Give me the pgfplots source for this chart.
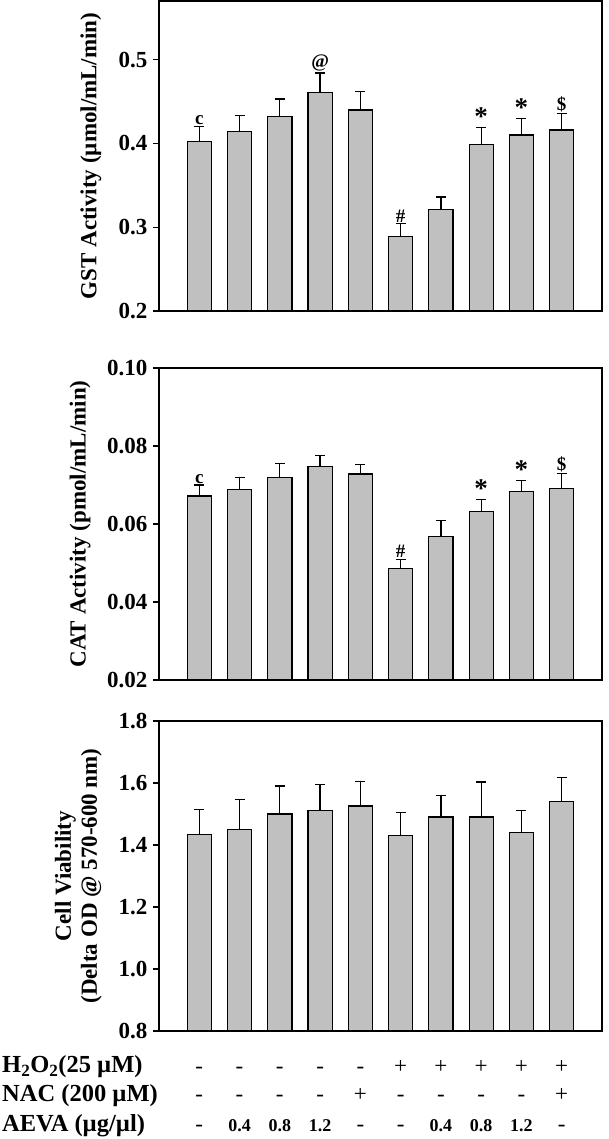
\documentclass[border=0pt]{standalone}
\usepackage{fontspec}
\setmainfont{Liberation Serif}
\usepackage{pgfplots}
\usepackage{pgfplotstable}
\pgfplotsset{compat=1.18}
\definecolor{barfill}{RGB}{192,192,192}
\newcommand\bigast{{\fontsize{27}{27}\selectfont *}}

\pgfplotstableread{
x y e
0 0.402 0.018
1 0.414 0.019
2 0.432 0.021
3 0.461 0.023
4 0.440 0.022
5 0.289 0.015
6 0.321 0.015
7 0.399 0.020
8 0.410 0.020
9 0.416 0.020
}\gst
\pgfplotstableread{
x y e
0 0.0672 0.0028
1 0.0688 0.0032
2 0.0720 0.0036
3 0.0748 0.0028
4 0.0728 0.0024
5 0.0485 0.0024
6 0.0568 0.0041
7 0.0632 0.0031
8 0.0684 0.0027
9 0.0692 0.0037
}\cat
\pgfplotstableread{
x y e
0 1.434 0.081
1 1.449 0.097
2 1.500 0.090
3 1.511 0.084
4 1.526 0.080
5 1.430 0.075
6 1.490 0.070
7 1.490 0.113
8 1.440 0.070
9 1.540 0.077
}\via

\tikzset{
  pm/.style={anchor=base, font=\fontsize{23}{23}\selectfont},
  num/.style={anchor=base, font=\fontsize{18}{18}\selectfont\bfseries},
}
\pgfplotsset{
  panel/.style={
    scale only axis, width=443pt, anchor=south west,
    xmin=-1, xmax=10, xtick=\empty,
    axis line style={line width=1.3pt},
    tick align=outside, ytick pos=left,
    major tick length=6pt,
    ytick style={line width=1.3pt, black},
    yticklabel style={font=\fontsize{23}{23}\selectfont\bfseries, xshift=-2pt},
    ylabel style={font=\fontsize{23}{26}\selectfont\bfseries, anchor=center, align=center},
    /pgf/number format/assume math mode=true,
    clip mode=individual,
  },
  mybar/.style={ybar, bar width=0.6, fill=barfill, draw=black, line width=1.2pt,
    error bars/.cd, y dir=plus, y explicit,
    error bar style={line width=1.2pt, black},
    error mark options={line width=1.2pt, mark size=5pt, black, rotate=90}},
  annot/.style={only marks, mark=none, nodes near coords, point meta=explicit symbolic,
    nodes near coords style={anchor=south, inner sep=1.5pt, font=\fontsize{19}{19}\selectfont\bfseries}},
}

\begin{document}
\begin{tikzpicture}
\useasboundingbox (0pt,0pt) rectangle (608pt,1139pt);

% GST
\begin{axis}[panel, at={(159pt,828pt)}, height=310pt,
  ymin=0.2, ymax=0.57, ytick={0.2,0.3,0.4,0.5},
  yticklabel style={/pgf/number format/.cd, fixed, fixed zerofill, precision=1},
  ylabel={GST Activity (µmol/mL/min)},
  ylabel style={at={(axis description cs:-0.1535,0.5)}}]
\addplot[mybar] table[x=x, y=y, y error=e] {\gst};
\addplot[annot] table[x=x, y=y, meta=l] {
x y l
0 0.420 c
3 0.484 @
5 0.304 \#
7 0.419 \bigast
8 0.430 \bigast
9 0.436 \$
};
\end{axis}

% CAT
\begin{axis}[panel, at={(159pt,459pt)}, height=312pt,
  ymin=0.02, ymax=0.10, ytick={0.02,0.04,0.06,0.08,0.10},
  yticklabel style={/pgf/number format/.cd, fixed, fixed zerofill, precision=2},
  ylabel={CAT Activity (pmol/mL/min)},
  ylabel style={at={(axis description cs:-0.178,0.5)}}]
\addplot[mybar] table[x=x, y=y, y error=e] {\cat};
\addplot[annot] table[x=x, y=y, meta=l] {
x y l
0 0.0700 c
5 0.0509 \#
7 0.0663 \bigast
8 0.0711 \bigast
9 0.0729 \$
};
\end{axis}

% Viability
\begin{axis}[panel, at={(159pt,108pt)}, height=310pt,
  ymin=0.8, ymax=1.8, ytick={0.8,1.0,1.2,1.4,1.6,1.8},
  yticklabel style={/pgf/number format/.cd, fixed, fixed zerofill, precision=1},
  ylabel={Cell Viability\\(Delta OD @ 570-600 nm)},
  ylabel style={at={(axis description cs:-0.182,0.5)}}]
\addplot[mybar] table[x=x, y=y, y error=e] {\via};
% treatment table
\node[pm] at (axis cs:0,0.6645) {-};
\node[pm] at (axis cs:1,0.6645) {-};
\node[pm] at (axis cs:2,0.6645) {-};
\node[pm] at (axis cs:3,0.6645) {-};
\node[pm] at (axis cs:4,0.6645) {-};
\node[pm] at (axis cs:5,0.6645) {+};
\node[pm] at (axis cs:6,0.6645) {+};
\node[pm] at (axis cs:7,0.6645) {+};
\node[pm] at (axis cs:8,0.6645) {+};
\node[pm] at (axis cs:9,0.6645) {+};
\node[pm] at (axis cs:0,0.572) {-};
\node[pm] at (axis cs:1,0.572) {-};
\node[pm] at (axis cs:2,0.572) {-};
\node[pm] at (axis cs:3,0.572) {-};
\node[pm] at (axis cs:4,0.572) {+};
\node[pm] at (axis cs:5,0.572) {-};
\node[pm] at (axis cs:6,0.572) {-};
\node[pm] at (axis cs:7,0.572) {-};
\node[pm] at (axis cs:8,0.572) {-};
\node[pm] at (axis cs:9,0.572) {+};
\node[pm] at (axis cs:0,0.475) {-};
\node[num] at (axis cs:1,0.475) {0.4};
\node[num] at (axis cs:2,0.475) {0.8};
\node[num] at (axis cs:3,0.475) {1.2};
\node[pm] at (axis cs:4,0.475) {-};
\node[pm] at (axis cs:5,0.475) {-};
\node[num] at (axis cs:6,0.475) {0.4};
\node[num] at (axis cs:7,0.475) {0.8};
\node[num] at (axis cs:8,0.475) {1.2};
\node[pm] at (axis cs:9,0.475) {-};
\end{axis}

\node[anchor=base west, inner sep=0pt, font=\fontsize{24.5}{24.5}\selectfont\bfseries] at (2pt,66pt) {H\textsubscript{2}O\textsubscript{2}(25 µM)};
\node[anchor=base west, inner sep=0pt, font=\fontsize{24.5}{24.5}\selectfont\bfseries] at (2pt,37.3pt) {NAC (200 µM)};
\node[anchor=base west, inner sep=0pt, font=\fontsize{24.5}{24.5}\selectfont\bfseries] at (2pt,7.3pt) {AEVA (µg/µl)};
\end{tikzpicture}
\end{document}
